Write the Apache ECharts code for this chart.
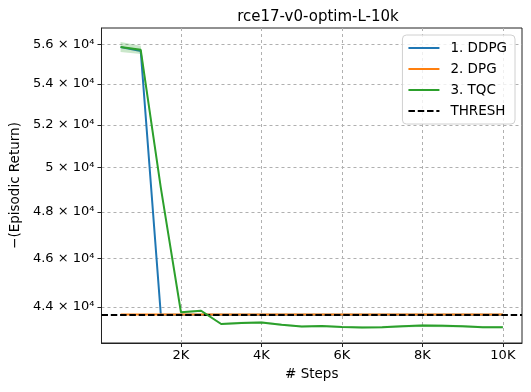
<!DOCTYPE html>
<html>
<head>
<meta charset="utf-8">
<script src="https://cdn.jsdelivr.net/npm/echarts@6/dist/echarts.min.js"></script>
<style>
  html, body { margin: 0; padding: 0; background: #fff; }
  #chart { width: 531px; height: 392px; }
</style>
</head>
<body>
<div id="chart"></div>
<script>
// training steps
const steps = [500, 1000, 1500, 2000, 2500, 3000, 3500, 4000, 4500, 5000,
  5500, 6000, 6500, 7000, 7500, 8000, 8500, 9000, 9500, 10000];

const ddpg = [55850, 55650, 43680, 43680, 43680, 43680, 43680, 43680, 43680, 43680,
  43680, 43680, 43680, 43680, 43680, 43680, 43680, 43680, 43680, 43680];
const dpg = [43690, 43690, 43690, 43690, 43690, 43690, 43690, 43690, 43690, 43690,
  43690, 43690, 43690, 43690, 43690, 43690, 43690, 43690, 43690, 43690];
const tqc = [55860, 55710, 49080, 43780, 43840, 43310, 43350, 43370, 43280, 43210,
  43225, 43195, 43175, 43185, 43215, 43245, 43235, 43215, 43185, 43185];
// half width of the shaded band round TQC
const tqcSpread = [260, 210, 120, 40, 40, 40, 45, 45, 40, 40,
  40, 35, 40, 40, 45, 50, 50, 45, 40, 40];
const thresh = 43690;

const xTicks = [2000, 4000, 6000, 8000, 10000];
const yTicks = [44000, 46000, 48000, 50000, 52000, 54000, 56000];

const FONT = 'DejaVu Sans';
const pairs = (ys) => steps.map((s, i) => [s, ys[i]]);

const chart = echarts.init(document.getElementById('chart'));

// shaded band drawn as one polygon through the axis scales
function renderBand(params, api) {
  if (params.dataIndex !== 0) return null;
  const upper = steps.map((s, i) => api.coord([s, tqc[i] + tqcSpread[i]]));
  const lower = steps.map((s, i) => api.coord([s, tqc[i] - tqcSpread[i]])).reverse();
  return {
    type: 'polygon',
    shape: { points: upper.concat(lower) },
    style: { fill: '#2ca02c', opacity: 0.25 }
  };
}

const option = {
  animation: false,
  title: {
    text: 'rce17-v0-optim-L-10k',
    left: 313,
    textAlign: 'center',
    top: 5,
    textStyle: { fontFamily: FONT, fontWeight: 'normal', fontSize: 15, color: '#000' }
  },
  legend: {
    orient: 'vertical',
    right: 16,
    top: 35,
    padding: [6, 8, 6, 5],
    itemWidth: 31,
    itemHeight: 10,
    itemGap: 7,
    backgroundColor: 'rgba(255,255,255,0.8)',
    borderColor: '#d0d0d0',
    borderWidth: 1,
    borderRadius: 4,
    itemStyle: { opacity: 0 },
    textStyle: { fontFamily: FONT, fontSize: 13.5, color: '#000', padding: [0, 0, 0, 6] },
    data: ['1. DDPG', '2. DPG', '3. TQC', 'THRESH']
  },
  grid: {
    left: 99, right: 9, top: 28, bottom: 49,
    show: true, borderColor: '#222', borderWidth: 1, backgroundColor: 'transparent'
  },
  xAxis: {
    type: 'value',
    min: 25,
    max: 10475,
    name: '# Steps',
    nameLocation: 'middle',
    nameGap: 24,
    nameTextStyle: { fontFamily: FONT, fontSize: 13.5, color: '#000' },
    axisLine: { show: true, lineStyle: { color: '#222' } },
    axisTick: { show: true, length: 4, lineStyle: { color: '#222' }, customValues: xTicks },
    axisLabel: {
      customValues: xTicks,
      margin: 6,
      fontFamily: FONT, fontSize: 13, color: '#000',
      formatter: v => (v / 1000) + 'K'
    },
    splitLine: { show: true, lineStyle: { color: '#b0b0b0', type: [3, 3] } }
  },
  yAxis: {
    type: 'log',
    logBase: 10,
    min: 42560,
    max: 56840,
    name: '\u2212(Episodic Return)',
    nameLocation: 'middle',
    nameRotate: 90,
    nameGap: 74,
    nameTextStyle: { fontFamily: FONT, fontSize: 13.5, color: '#000' },
    axisLine: { show: true, lineStyle: { color: '#222' } },
    axisTick: { show: true, length: 4, lineStyle: { color: '#222' }, customValues: yTicks },
    axisLabel: {
      customValues: yTicks,
      margin: 7,
      fontFamily: FONT, fontSize: 13, color: '#000',
      formatter: v => (Math.round(v / 1000) / 10) + ' \u00d7 10\u2074'
    },
    splitLine: { show: true, lineStyle: { color: '#b0b0b0', type: [3, 3] } }
  },
  series: [
    {
      name: '1. DDPG', type: 'line', symbol: 'none', z: 2,
      lineStyle: { color: '#1f77b4', width: 2 }, itemStyle: { color: '#1f77b4' },
      data: pairs(ddpg)
    },
    {
      name: '2. DPG', type: 'line', symbol: 'none', z: 3,
      lineStyle: { color: '#ff7f0e', width: 2 }, itemStyle: { color: '#ff7f0e' },
      data: pairs(dpg)
    },
    {
      name: 'tqc-band', type: 'custom', coordinateSystem: 'cartesian2d', z: 4,
      silent: true, clip: true,
      renderItem: renderBand,
      data: pairs(tqc)
    },
    {
      name: '3. TQC', type: 'line', symbol: 'none', z: 5,
      lineStyle: { color: '#2ca02c', width: 2 }, itemStyle: { color: '#2ca02c' },
      data: pairs(tqc)
    },
    {
      name: 'THRESH', type: 'line', symbol: 'none', z: 6,
      lineStyle: { color: '#000', width: 2, type: [6.5, 2.8] }, itemStyle: { color: '#000' },
      data: [],
      markLine: {
        silent: true, symbol: 'none', label: { show: false },
        lineStyle: { color: '#000', width: 2, type: [6.5, 2.8] },
        data: [{ yAxis: thresh }]
      }
    }
  ]
};

chart.setOption(option);
</script>
</body>
</html>
